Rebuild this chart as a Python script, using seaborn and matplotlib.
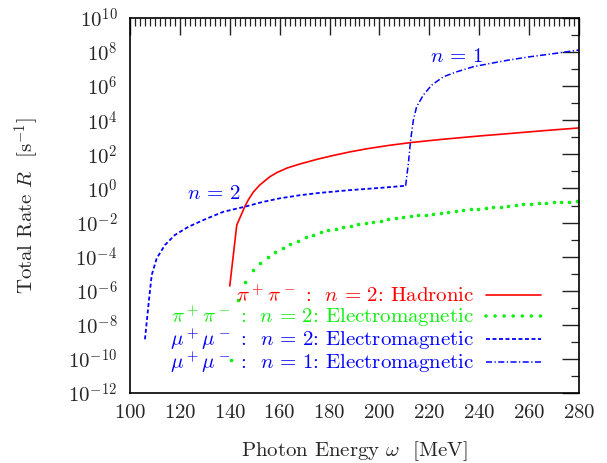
import numpy as np
import pandas as pd
import matplotlib
matplotlib.use("Agg")
import matplotlib.pyplot as plt
from matplotlib.lines import Line2D
from matplotlib.ticker import FixedLocator, FuncFormatter
import seaborn as sns

# ---------------- data (log10 of rate R) ----------------
had_w = [140.0, 142.8, 146.0, 147.5, 149.5, 152.0, 156.0, 159.0, 163.0, 168.0, 175.0, 181.0,
         188.0, 195.0, 204.0, 213.0, 225.0, 241.0, 252.0, 265.0, 280.0]
had_log10R = [-5.72, -2.15, -1.07, -0.65, -0.20, 0.20, 0.68, 0.94, 1.20, 1.43, 1.71, 1.92,
              2.14, 2.33, 2.53, 2.70, 2.88, 3.09, 3.22, 3.38, 3.55]

pem_w = [140.5, 143.4, 146.1, 149.2, 152.3, 155.3, 158.3, 161.3, 164.3, 167.4, 170.4, 173.4,
         176.4, 179.4, 182.4, 185.4, 188.4, 191.4, 194.5, 197.5, 200.5, 203.5, 206.5, 209.5,
         212.5, 215.6, 218.6, 221.6, 224.6, 227.6, 230.6, 233.6, 236.6, 239.7, 242.7, 245.7,
         248.7, 251.7, 254.7, 257.7, 260.7, 263.8, 266.8, 269.8, 272.8, 275.8, 279.0]
pem_log10R = [-10.06, -6.55, -5.47, -4.79, -4.36, -4.00, -3.75, -3.51, -3.28, -3.07, -2.87, -2.73,
              -2.55, -2.45, -2.36, -2.27, -2.19, -2.11, -2.03, -1.96, -1.89, -1.82, -1.76, -1.70,
              -1.64, -1.58, -1.53, -1.47, -1.42, -1.37, -1.32, -1.27, -1.23, -1.18, -1.14, -1.10,
              -1.06, -1.02, -0.98, -0.94, -0.91, -0.87, -0.84, -0.81, -0.79, -0.77, -0.74]

mu2_w = [106.0, 107.6, 108.7, 110.7, 114.0, 118.0, 123.4, 130.1, 137.4, 146.1, 153.0, 160.0,
         168.0, 176.0, 188.0, 200.0, 210.7]
mu2_log10R = [-8.85, -6.55, -5.08, -4.10, -3.32, -2.73, -2.25, -1.81, -1.37, -1.07, -0.80, -0.58,
              -0.40, -0.26, -0.10, 0.03, 0.16]

mu1_w = [210.5, 211.6, 212.5, 213.6, 214.9, 217.6, 220.9, 225.6, 230.9, 237.6, 244.3, 251.7, 260.0, 268.4, 280.0]
mu1_log10R = [0.16, 1.47, 2.84, 4.01, 4.79, 5.48, 6.06, 6.55, 6.84, 7.14, 7.33, 7.53, 7.72, 7.88, 8.12]

labels = [r'$\pi^+\pi^-$ :  $n\,=\,2$: Hadronic',
          r'$\pi^+\pi^-$ :  $n\,=\,2$: Electromagnetic',
          r'$\mu^+\mu^-$ :  $n\,=\,2$: Electromagnetic',
          r'$\mu^+\mu^-$ :  $n\,=\,1$: Electromagnetic']

x_ticks = [100, 120, 140, 160, 180, 200, 220, 240, 260, 280]
y_exponents = [-12, -10, -8, -6, -4, -2, 0, 2, 4, 6, 8, 10]

# ---------------- style ----------------
sns.set_style("white")
plt.rcParams['font.family'] = ['cmr10', 'DejaVu Serif']
plt.rcParams['mathtext.fontset'] = 'cm'
plt.rcParams['axes.formatter.use_mathtext'] = True
plt.rcParams['axes.unicode_minus'] = False

RED, GREEN, BLUE = '#ff0000', '#11ee11', '#0000ff'
FS = 15

fig = plt.figure(figsize=(6.07, 4.63), dpi=100)
ax = fig.add_axes([130/607, 1-393/463, 449/607, 375/463])

def frame(w, lg):
    return pd.DataFrame({'w': w, 'R': 10.0 ** np.asarray(lg)})

sns.lineplot(data=frame(had_w, had_log10R), x='w', y='R', ax=ax, color=RED, lw=1.2,
             label=labels[0])
sns.lineplot(data=frame(pem_w, pem_log10R), x='w', y='R', ax=ax, color=GREEN, lw=0,
             linestyle='none', marker='o', markersize=2.6, markeredgewidth=0,
             label=labels[1])
sns.lineplot(data=frame(mu2_w, mu2_log10R), x='w', y='R', ax=ax, color=BLUE, lw=1.3,
             linestyle=(0, (2.2, 1.4)), label=labels[2])
sns.lineplot(data=frame(mu1_w, mu1_log10R), x='w', y='R', ax=ax, color=BLUE, lw=1.1,
             linestyle=(0, (4.0, 1.6, 0.8, 1.6)), label=labels[3])

ax.set_yscale('log')
ax.set_xlim(100, 280)
ax.set_ylim(1e-12, 1e10)

ax.xaxis.set_major_locator(FixedLocator(x_ticks))
ax.xaxis.set_minor_locator(FixedLocator([v for v in range(100, 281, 2) if v % 20]))
ax.yaxis.set_major_locator(FixedLocator([10.0 ** e for e in y_exponents]))
ax.yaxis.set_minor_locator(FixedLocator([10.0 ** (e + 1) for e in y_exponents[:-1]]))
ax.yaxis.set_major_formatter(FuncFormatter(lambda v, p: r'$10^{%d}$' % int(round(np.log10(v)))))
ax.xaxis.set_major_formatter(FuncFormatter(lambda v, p: r'$%d$' % int(round(v))))
ax.yaxis.set_minor_formatter(FuncFormatter(lambda v, p: ''))

ax.tick_params(which='both', direction='in', top=True, right=True, color='#222222')
ax.tick_params(which='major', length=12, width=1.0, labelsize=FS)
ax.tick_params(axis='x', which='major', pad=8)
ax.tick_params(axis='y', which='major', pad=9)
ax.tick_params(which='minor', length=6, width=0.9)
for s in ax.spines.values():
    s.set_color('black')
    s.set_linewidth(1.2)

ax.set_xlabel(r'Photon Energy $\omega$  [MeV]', fontsize=FS, labelpad=12)
ax.set_ylabel(r'Total Rate $R$  [s$^{-1}$]', fontsize=FS, labelpad=20)

ax.text(133.5, 10 ** -0.3, r'$n\,=\,2$', color=BLUE, fontsize=FS, ha='center', va='center')
ax.text(231.0, 10 ** 7.71, r'$n\,=\,1$', color=BLUE, fontsize=FS, ha='center', va='center')

handles, labs = ax.get_legend_handles_labels()
handles[1] = Line2D([], [], color=GREEN, lw=2.6, linestyle=(0, (0.01, 2.5)),
                    dash_capstyle='round')
leg = ax.legend(handles, labs, loc='lower right', bbox_to_anchor=(0.938, 0.02), frameon=False,
                markerfirst=False, labelcolor=[RED, GREEN, BLUE, BLUE], fontsize=FS,
                handlelength=2.65, handletextpad=0.55, labelspacing=-0.1,
                borderpad=0.0)

fig.savefig('out.png', dpi=100)
